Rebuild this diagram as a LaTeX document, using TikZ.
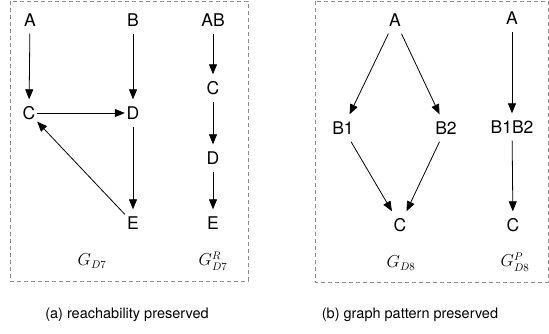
\documentclass[tikz,border=0pt]{standalone}
\usepackage{fontspec}
\setmainfont{TeX Gyre Heros}
\usetikzlibrary{arrows.meta}
\tikzset{
  vtx/.style={inner sep=0pt, minimum width=16pt, minimum height=27pt, font=\fontsize{17.5}{20}\selectfont},
  edge/.style={-{Triangle[length=10pt,width=8pt]}, line width=0.8pt},
  frame/.style={draw=black!45, dashed, dash pattern=on 4pt off 3pt, line width=0.9pt},
  glabel/.style={font=\fontsize{16}{18}\selectfont},
  caption/.style={font=\fontsize{14.5}{17}\selectfont}
}
\begin{document}
\begin{tikzpicture}[x=1pt, y=-1pt]
  \useasboundingbox (0,0) rectangle (549,333);
  % frames
  \draw[frame] (10,1) rectangle (248,281);
  \draw[frame] (315,1) rectangle (548,282);
  % (a) G_D7
  \node[vtx] (a7) at (30,20) {A};
  \node[vtx] (b7) at (133,20) {B};
  \node[vtx] (c7) at (29,113) {C};
  \node[vtx] (d7) at (133,113) {D};
  \node[vtx] (e7) at (133,223) {E};
  \draw[edge] (a7) -- (c7);
  \draw[edge] (b7) -- (d7);
  \draw[edge] (c7) -- (d7);
  \draw[edge] (d7) -- (e7);
  \draw[edge] (e7) -- (c7);
  % G_D7^R
  \node[vtx] (ab7r) at (213,20) {AB};
  \node[vtx] (c7r) at (213,88) {C};
  \node[vtx] (d7r) at (213,158) {D};
  \node[vtx] (e7r) at (213,223) {E};
  \draw[edge] (ab7r) -- (c7r);
  \draw[edge] (c7r) -- (d7r);
  \draw[edge] (d7r) -- (e7r);
  \node[glabel] (g7) at (92,261) {$G_{D7}$};
  \node[glabel] (g7r) at (213,261) {$G^{R}_{D7}$};
  % (b) G_D8
  \node[vtx] (a8) at (395,20) {A};
  \node[vtx] (b18) at (343,128) {B1};
  \node[vtx] (b28) at (446,128) {B2};
  \node[vtx] (c8) at (400,225) {C};
  \draw[edge] (a8) -- (b18);
  \draw[edge] (a8) -- (b28);
  \draw[edge] (b18) -- (c8);
  \draw[edge] (b28) -- (c8);
  % G_D8^P
  \node[vtx] (a8p) at (512,18) {A};
  \node[vtx] (b8p) at (512,127) {B1B2};
  \node[vtx] (c8p) at (513,225) {C};
  \draw[edge] (a8p) -- (b8p);
  \draw[edge] (b8p) -- (c8p);
  \node[glabel] (g8) at (401,263) {$G_{D8}$};
  \node[glabel] (g8p) at (515,262) {$G^{P}_{D8}$};
  % captions
  \node[caption] (capa) at (127,315) {(a) reachability preserved};
  \node[caption] (capb) at (410,315) {(b) graph pattern preserved};
\end{tikzpicture}
\end{document}
